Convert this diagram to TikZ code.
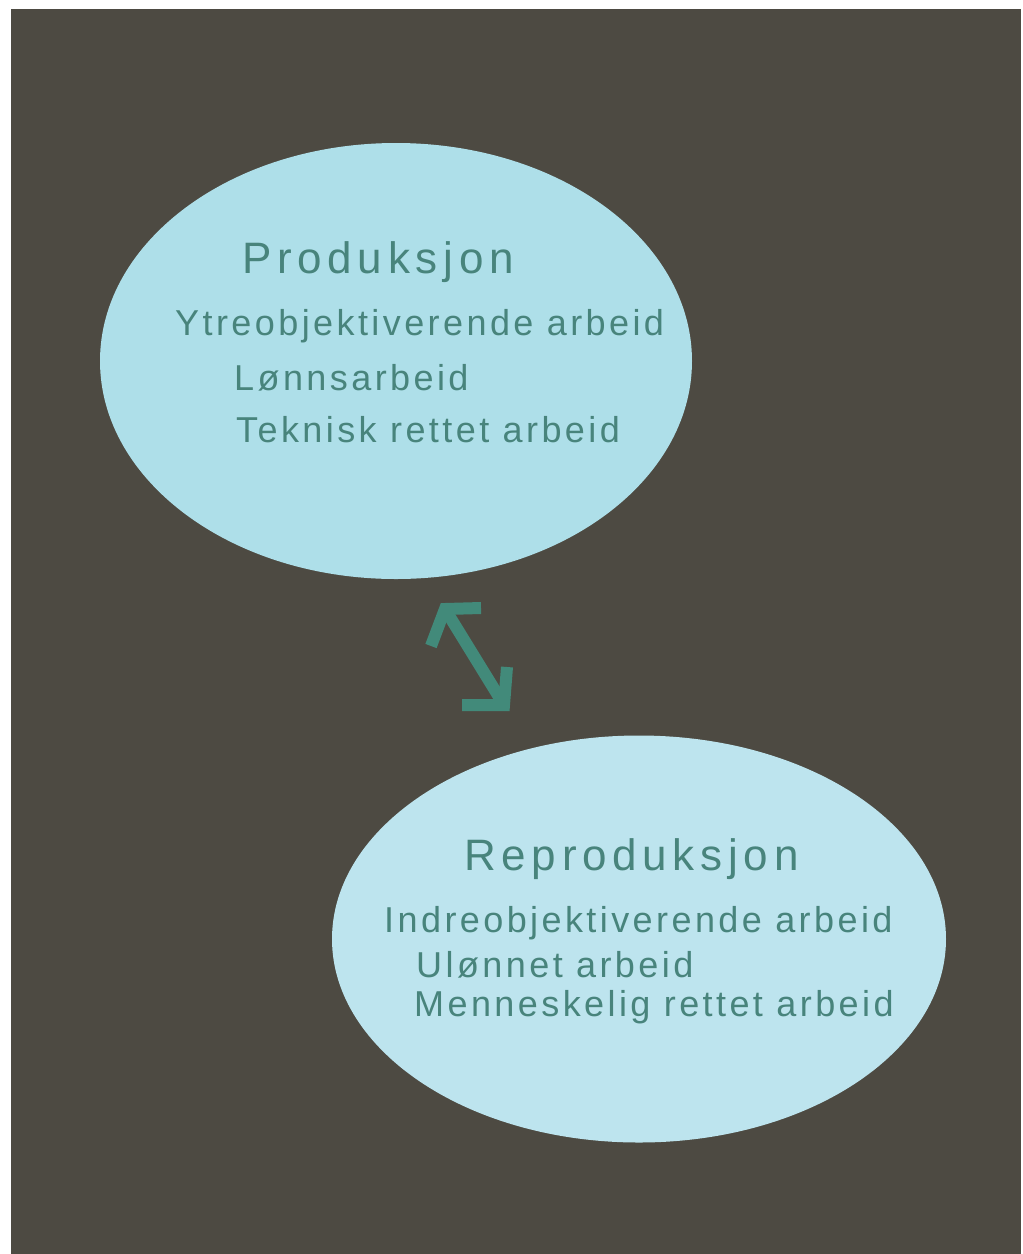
\documentclass[tikz,border=0pt]{standalone}
\usepackage{fontspec}
\setmainfont{Liberation Sans}
\usetikzlibrary{shapes.geometric}
\definecolor{bgdark}{RGB}{77,74,66}
\definecolor{ellA}{RGB}{174,223,233}
\definecolor{ellB}{RGB}{189,228,238}
\definecolor{txt}{RGB}{72,132,124}
\definecolor{arrowc}{RGB}{66,138,122}
\tikzset{
  bubble/.style={ellipse, inner sep=0pt, draw=none},
  title/.style={anchor=base west, inner sep=0pt, text=txt,
    font=\fontsize{44}{50}\selectfont\addfontfeatures{LetterSpace=13}},
  item/.style={anchor=base west, inner sep=0pt, text=txt,
    font=\fontsize{36}{42}\selectfont\addfontfeatures{LetterSpace=9.5}},
  arrowline/.style={draw=arrowc, line width=12pt, line join=miter, line cap=butt}
}
\begin{document}
\begin{tikzpicture}[x=1pt,y=-1pt]
\useasboundingbox (0,0) rectangle (1023,1254);
\fill[white] (0,0) rectangle (1023,1254);
\fill[bgdark] (11,9) rectangle (1021,1254);
% ellipses
\node[bubble, fill=ellA, minimum width=592pt, minimum height=436pt] (prod) at (396,361) {};
\node[bubble, fill=ellB, minimum width=614pt, minimum height=407pt] (repr) at (639,939) {};
% texts in first ellipse
\node[title] (t1) at (242,273) {Produksjon};
\node[item] (p1) at (175,335) {Ytreobjektiverende arbeid};
\node[item] (p2) at (234,390) {Lønnsarbeid};
\node[item] (p3) at (236,442) {Teknisk rettet arbeid};
% texts in second ellipse
\node[title] (t2) at (464,870) {Reproduksjon};
\node[item] (r1) at (384,932) {Indreobjektiverende arbeid};
\node[item] (r2) at (416,977) {Ulønnet arbeid};
\node[item] (r3) at (414,1016) {Menneskelig rettet arbeid};
% double arrow
\coordinate (aTop) at (445,609);
\coordinate (aBot) at (504,705);
\coordinate (aTopL) at (481,608);
\coordinate (aTopR) at (431,646);
\coordinate (aBotL) at (462,705);
\coordinate (aBotR) at (507,667);
\draw[arrowline] (aTop) -- (aBot);
\draw[arrowline] (aTopL) -- (aTop) -- (aTopR);
\draw[arrowline] (aBotL) -- (aBot) -- (aBotR);
\end{tikzpicture}
\end{document}
